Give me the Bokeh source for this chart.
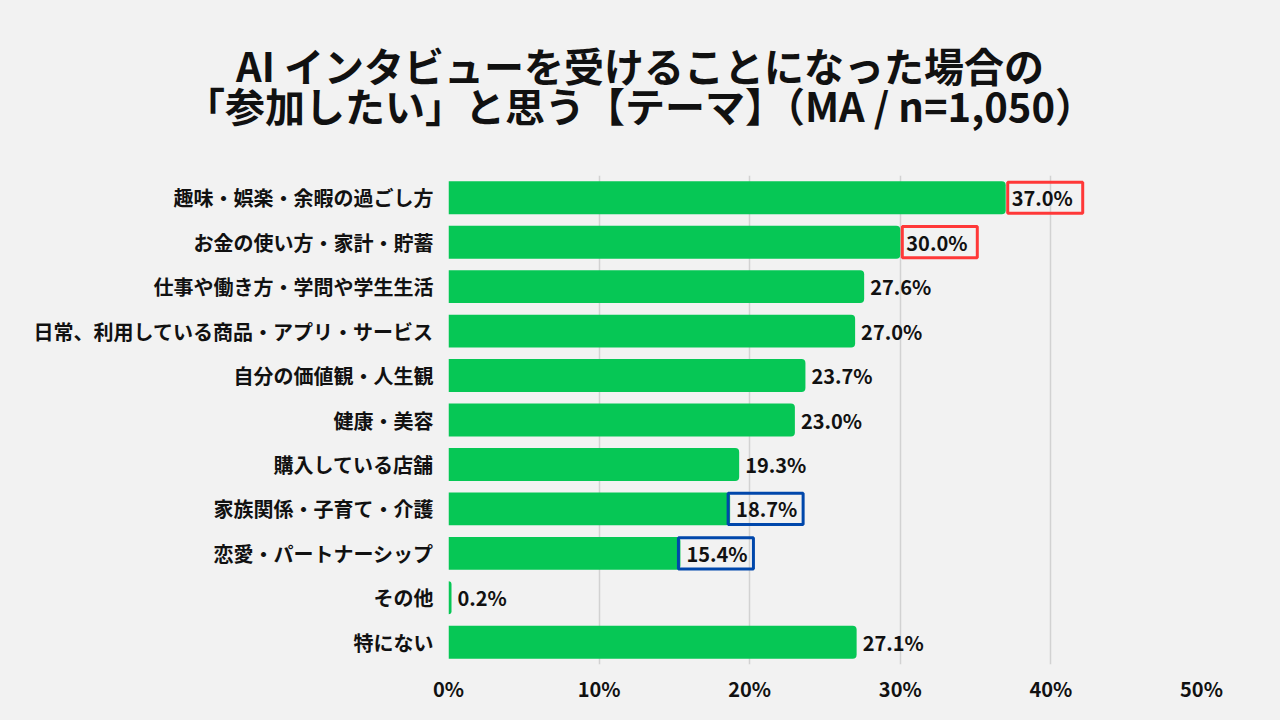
from bokeh.plotting import figure
from bokeh.models import Range1d, FixedTicker, PrintfTickFormatter, ColumnDataSource, Div
from bokeh.layouts import column
from bokeh.core.properties import value
from bokeh.embed import file_html
from bokeh.resources import INLINE

title_line1 = "AI インタビューを受けることになった場合の"
title_line2 = "「参加したい」と思う【テーマ】（MA / n=1,050）"
categories = ["趣味・娯楽・余暇の過ごし方", "お金の使い方・家計・貯蓄", "仕事や働き方・学問や学生生活",
              "日常、利用している商品・アプリ・サービス", "自分の価値観・人生観", "健康・美容",
              "購入している店舗", "家族関係・子育て・介護", "恋愛・パートナーシップ", "その他", "特にない"]
values = [37.0, 30.0, 27.6, 27.0, 23.7, 23.0, 19.3, 18.7, 15.4, 0.2, 27.1]
red_boxed = ["趣味・娯楽・余暇の過ごし方", "お金の使い方・家計・貯蓄"]
blue_boxed = ["家族関係・子育て・介護", "恋愛・パートナーシップ"]
x_ticks = [0, 10, 20, 30, 40, 50]

FONT = "Noto Sans CJK JP"
BG = "#f2f2f2"
GREEN = "#06c755"

n = len(categories)
ypos = [n - 1 - i for i in range(n)]

TITLE_H = 140
title = Div(text=f"<div>{title_line1}</div><div>{title_line2}</div>", width=1280, height=TITLE_H,
            styles={"background-color": BG, "font-family": f"'{FONT}'", "font-weight": "bold",
                    "font-size": "40px", "line-height": "40px", "color": "#111111",
                    "text-align": "center", "padding-top": "45px", "box-sizing": "border-box",
                    "width": "1280px", "height": f"{TITLE_H}px", "margin": "0"})

p = figure(width=1280, height=720 - TITLE_H, output_backend="svg", toolbar_location=None,
           y_range=Range1d(-0.5, n - 0.5), x_range=Range1d(0, 50),
           min_border_left=448, min_border_right=79, min_border_top=175 - TITLE_H, min_border_bottom=56)
p.background_fill_color = BG
p.border_fill_color = BG
p.outline_line_color = None

labels = [f"{v:.1f}%" for v in values]
src = ColumnDataSource(dict(y=ypos, val=values, lab=labels))
p.hbar(y="y", right="val", left=0, height=0.74, source=src, fill_color=GREEN, line_color=None,
       border_radius=(0, 4, 4, 0))
p.text(x="val", y="y", text="lab", source=src, x_offset=6, text_baseline="middle", text_align="left",
       text_font=value(FONT), text_font_style="bold", text_font_size="20px", text_color="#111111")

px_per_unit = 753 / 50.0
def boxes(cats, color, shift):
    idx = [categories.index(c) for c in cats]
    left = [values[i] + shift / px_per_unit for i in idx]
    right = [l + 75 / px_per_unit for l in left]
    s = ColumnDataSource(dict(y=[ypos[i] for i in idx], left=left, right=right))
    p.hbar(y="y", left="left", right="right", height=0.7, source=s, fill_color=None,
           line_color=color, line_width=3)
boxes(red_boxed, "#ff3838", 2)
boxes(blue_boxed, "#0047ab", -2)

p.xaxis.ticker = FixedTicker(ticks=x_ticks)
p.xaxis.formatter = PrintfTickFormatter(format="%d%%")
p.yaxis.ticker = FixedTicker(ticks=ypos)
p.yaxis.major_label_overrides = {y: c for y, c in zip(ypos, categories)}
for ax in (p.xaxis[0], p.yaxis[0]):
    ax.axis_line_color = None
    ax.major_tick_line_color = None
    ax.minor_tick_line_color = None
    ax.major_label_text_font = FONT
    ax.major_label_text_font_style = "bold"
    ax.major_label_text_font_size = "20px"
    ax.major_label_text_color = "#111111"
p.xaxis.major_label_standoff = 3
p.yaxis.major_label_standoff = 9
p.ygrid.grid_line_color = None
p.xgrid.grid_line_color = "#d2d2d2"
p.xgrid.grid_line_width = 1.5

layout = column(title, p, spacing=0, styles={"background-color": BG})
open("out.html", "w").write(file_html(layout, INLINE))
